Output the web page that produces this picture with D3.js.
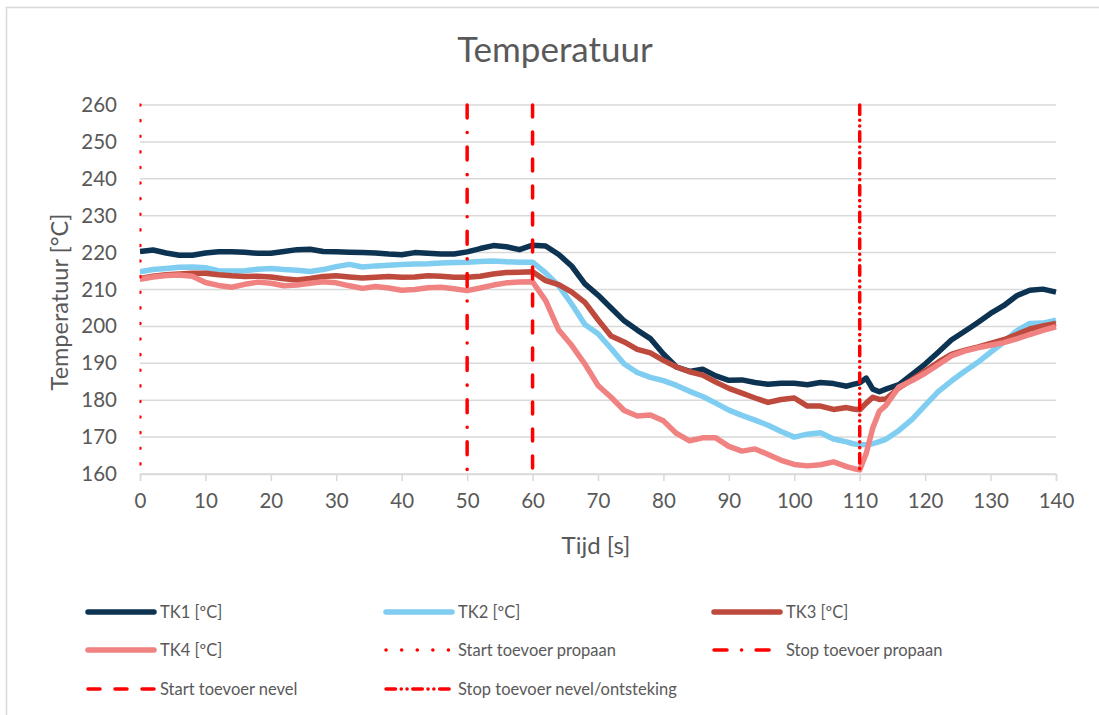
<!DOCTYPE html>
<html><head><meta charset="utf-8">
<script src="https://cdn.jsdelivr.net/npm/d3@7"></script>
<style>
body{margin:0;background:#fff}
svg{display:block}
text{font-family:Lato,"Open Sans",sans-serif;fill:#595959}
</style>
</head><body>
<svg id="chart" width="1099" height="715"></svg>
<script>
// ---- data ----
const time = [0,2,4,6,8,10,12,14,16,18,20,22,24,26,28,30,32,34,36,38,40,42,44,46,48,50,52,54,56,58,60,62,64,66,68,70,72,74,76,78,80,82,84,86,88,90,92,94,96,98,100,102,104,106,108,109,110,111,112,113,114,116,118,120,122,124,126,128,130,132,134,136,138,140];
const tk1 = [220.3,220.7,219.9,219.3,219.3,219.9,220.2,220.2,220.1,219.8,219.8,220.3,220.8,220.9,220.3,220.2,220.1,220.0,219.9,219.6,219.4,220.0,219.8,219.6,219.6,220.2,221.1,221.9,221.6,220.8,222.0,221.8,219.5,216.3,211.5,208.5,205.0,201.5,199.0,196.7,192.5,189.0,187.8,188.4,186.6,185.4,185.5,184.8,184.3,184.6,184.6,184.2,184.8,184.5,183.8,184.3,184.7,186.0,183.0,182.3,183.0,184.2,187.0,189.8,193.0,196.3,198.6,201.0,203.5,205.6,208.3,209.8,210.1,209.3];
const tk2 = [214.8,215.4,215.7,216.0,216.1,215.9,215.1,215.0,215.1,215.5,215.7,215.4,215.2,214.9,215.4,216.2,216.8,216.1,216.4,216.6,216.8,216.9,217.0,217.2,217.3,217.4,217.6,217.7,217.5,217.4,217.4,214.5,211.0,206.0,200.5,198.0,194.0,189.8,187.5,186.2,185.3,184.0,182.4,181.0,179.2,177.3,175.9,174.6,173.2,171.5,170.0,170.8,171.2,169.5,168.7,168.2,167.9,168.0,168.2,168.8,169.4,171.8,174.8,178.6,182.3,185.2,187.8,190.2,193.0,195.7,198.8,200.8,200.9,201.7];
const tk3 = [213.0,213.6,214.0,214.2,214.4,214.4,214.0,213.7,213.5,213.6,213.4,212.9,212.6,213.0,213.5,213.7,213.4,213.1,213.3,213.5,213.3,213.4,213.7,213.6,213.3,213.3,213.6,214.2,214.6,214.7,214.8,212.4,211.3,209.3,206.5,201.8,197.4,195.8,193.8,192.8,190.8,189.0,187.7,186.8,184.9,183.2,181.9,180.6,179.4,180.2,180.6,178.4,178.4,177.5,178.0,177.6,177.4,179.2,180.8,180.2,180.3,183.3,185.6,187.9,190.3,192.4,193.5,194.4,195.4,196.4,197.8,199.3,200.1,200.8];
const tk4 = [212.8,213.4,213.8,213.9,213.6,211.9,211.1,210.6,211.4,212.0,211.7,211.0,211.2,211.7,212.1,211.8,211.0,210.3,210.8,210.4,209.8,210.0,210.5,210.6,210.2,209.7,210.4,211.2,211.8,212.0,212.1,207.0,199.0,194.8,189.8,184.0,180.8,177.2,175.7,176.0,174.4,171.0,169.0,169.8,169.8,167.5,166.2,166.8,165.3,163.7,162.6,162.2,162.5,163.3,162.0,161.5,161.1,165.6,172.5,177.0,178.6,183.6,185.3,187.3,189.6,192.0,193.3,194.2,194.9,195.6,196.6,197.8,198.9,199.9];
const seriesNames = ["TK1 [ºC]","TK2 [ºC]","TK3 [ºC]","TK4 [ºC]"];
const eventTimes = [0,50,60,110];
const eventNames = ["Start toevoer propaan","Stop toevoer propaan","Start toevoer nevel","Stop toevoer nevel/ontsteking"];
const eventRange = [160,260];
const xTicks = [0,10,20,30,40,50,60,70,80,90,100,110,120,130,140];
const yTicks = [160,170,180,190,200,210,220,230,240,250,260];
const chartTitle = "Temperatuur";
const xTitle = "Tijd [s]";
const yTitle = "Temperatuur [°C]";

// ---- styles ----
const seriesColors = ["#0d3352","#7fcdf1","#bd4a3c","#f08382"];
const eventDash = ["0.1,15.5","13,14.5,0.1,14.5","12,15","9.5,5.7,0.1,5.7,0.1,5.7"];
const red = "#ff0000";

const svg = d3.select("#chart");
const L = 140, R = 1056, T = 105, B = 474;
const x = d3.scaleLinear().domain([0,140]).range([L,R]);
const y = d3.scaleLinear().domain([160,260]).range([B,T]);

// outer border
svg.append("rect").attr("x",6.5).attr("y",7.5).attr("width",1200).attr("height",800)
  .attr("fill","none").attr("stroke","#d9d9d9").attr("stroke-width",1.5);

// title
svg.append("text").attr("x",555).attr("y",62).attr("text-anchor","middle")
  .attr("font-size",35).text(chartTitle);

// gridlines
svg.append("g").selectAll("line").data(yTicks).join("line")
  .attr("x1",L).attr("x2",R).attr("y1",d=>y(d)).attr("y2",d=>y(d))
  .attr("stroke","#d9d9d9").attr("stroke-width",1.5);

// x axis
const xAxis = svg.append("g").attr("transform",`translate(0,${B})`)
  .call(d3.axisBottom(x).tickValues(xTicks).tickSize(7).tickPadding(12));
xAxis.select(".domain").attr("stroke","#d9d9d9").attr("stroke-width",1.5);
xAxis.selectAll(".tick line").attr("stroke","#d9d9d9").attr("stroke-width",1.5);
xAxis.selectAll("text").attr("font-size",20.5).attr("fill","#595959").style("font-family","Lato");

// y axis
const yAxis = svg.append("g").attr("transform",`translate(${L},0)`)
  .call(d3.axisLeft(y).tickValues(yTicks).tickSize(0).tickPadding(23));
yAxis.select(".domain").remove();
yAxis.selectAll("text").attr("font-size",20.5).attr("fill","#595959").style("font-family","Lato");

// axis titles
svg.append("text").attr("x",596).attr("y",554).attr("text-anchor","middle")
  .attr("font-size",24).text(xTitle);
svg.append("text").attr("transform","translate(68,302) rotate(-90)").attr("text-anchor","middle")
  .attr("font-size",23.5).text(yTitle);

// clip
svg.append("clipPath").attr("id","plot").append("rect")
  .attr("x",L-0.5).attr("y",T-4).attr("width",R-L+4).attr("height",B-T+8);

const plot = svg.append("g").attr("clip-path","url(#plot)");
const series = [tk1,tk2,tk3,tk4];
const line = d3.line().x((d,i)=>x(time[i])).y(d=>y(d));
plot.selectAll("path.s").data(series).join("path").attr("class","s")
  .attr("d",d=>line(d)).attr("fill","none")
  .attr("stroke",(d,i)=>seriesColors[i]).attr("stroke-width",5.5)
  .attr("stroke-linejoin","round").attr("stroke-linecap","butt");

// event lines
plot.selectAll("line.e").data(eventTimes).join("line").attr("class","e")
  .attr("x1",d=>x(d)).attr("x2",d=>x(d))
  .attr("y1",y(eventRange[1])).attr("y2",y(eventRange[0]))
  .attr("stroke",red).attr("stroke-width",3.5).attr("stroke-linecap","round")
  .attr("stroke-dasharray",(d,i)=>eventDash[i]);

// legend
const legendItems = [
  {name:seriesNames[0],color:seriesColors[0],w:5.5,dash:null},
  {name:seriesNames[1],color:seriesColors[1],w:5.5,dash:null},
  {name:seriesNames[2],color:seriesColors[2],w:5.5,dash:null},
  {name:seriesNames[3],color:seriesColors[3],w:5.5,dash:null},
  {name:eventNames[0],color:red,w:3.5,dash:eventDash[0]},
  {name:eventNames[1],color:red,w:3.5,dash:eventDash[1]},
  {name:eventNames[2],color:red,w:3.5,dash:eventDash[2]},
  {name:eventNames[3],color:red,w:3.5,dash:eventDash[3]}
];
const colX = [88,386,714];
const rowY = [612,650,689];
const lg = svg.append("g").selectAll("g").data(legendItems).join("g")
  .attr("transform",(d,i)=>`translate(${colX[i%3]},${rowY[Math.floor(i/3)]})`);
lg.append("line").attr("x1",0).attr("x2",66).attr("y1",0).attr("y2",0)
  .attr("stroke",d=>d.color).attr("stroke-width",d=>d.w)
  .attr("stroke-linecap","round").attr("stroke-dasharray",d=>d.dash);
lg.append("text").attr("x",72).attr("y",6).attr("font-size",16.5).text(d=>d.name);
</script>
</body></html>
